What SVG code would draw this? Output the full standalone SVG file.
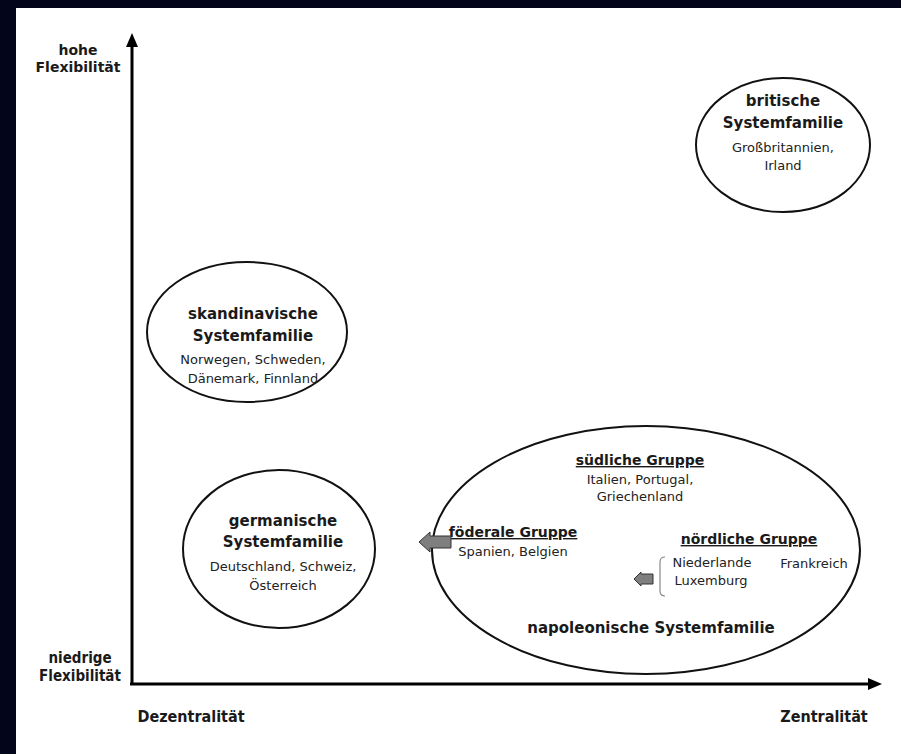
<svg xmlns="http://www.w3.org/2000/svg" width="901" height="754" viewBox="0 0 901 754">
<style>
.ell{fill:none;stroke:#111;stroke-width:2}
.ax{stroke:#000;stroke-width:3;fill:none}
.tb{font-family:"DejaVu Sans",Verdana,sans-serif;font-weight:bold;font-size:15px;fill:#1a1a1a;text-anchor:middle}
.tr{font-family:"DejaVu Sans",Verdana,sans-serif;font-size:13px;fill:#222;text-anchor:middle}
.tu{font-family:"DejaVu Sans",Verdana,sans-serif;font-weight:bold;font-size:14px;fill:#1a1a1a;text-anchor:middle;text-decoration:underline}
.ta{font-family:"DejaVu Sans",Verdana,sans-serif;font-weight:bold;font-size:14px;fill:#1a1a1a;text-anchor:middle}
.tc{font-family:"DejaVu Sans Condensed","DejaVu Sans",sans-serif;font-stretch:condensed;font-weight:bold;font-size:15px;fill:#1a1a1a;text-anchor:middle}
.blk{fill:#7f7f7f;stroke:#333;stroke-width:1}
</style>
<rect x="0" y="0" width="901" height="754" fill="#03051a"/>
<rect x="16" y="8" width="885" height="746" fill="#fff"/>
<g id="axes">
<line class="ax" x1="132" y1="685" x2="132" y2="44"/>
<polygon points="132,33 126,47 138,47" fill="#000"/>
<line class="ax" x1="130" y1="684" x2="870" y2="684"/>
<polygon points="882,684 868,678 868,690" fill="#000"/>
<text class="ta" x="78" y="55">hohe</text>
<text class="ta" x="78" y="72">Flexibilität</text>
<text class="tc" x="80" y="663">niedrige</text>
<text class="tc" x="80" y="681">Flexibilität</text>
<text class="tc" x="191" y="722" style="font-size:16px">Dezentralität</text>
<text class="tc" x="824" y="722" style="font-size:16px">Zentralität</text>
</g>
<g id="britische">
<ellipse class="ell" cx="783" cy="145" rx="87" ry="67"/>
<text class="tb" x="783" y="106">britische</text>
<text class="tb" x="783" y="128">Systemfamilie</text>
<text class="tr" x="783" y="152">Großbritannien,</text>
<text class="tr" x="783" y="170">Irland</text>
</g>
<g id="skandinavische">
<ellipse class="ell" cx="247" cy="332" rx="100" ry="70"/>
<text class="tb" x="253" y="319">skandinavische</text>
<text class="tb" x="253" y="341">Systemfamilie</text>
<text class="tr" x="253" y="364">Norwegen, Schweden,</text>
<text class="tr" x="253" y="383">Dänemark, Finnland</text>
</g>
<g id="germanische">
<ellipse class="ell" cx="279" cy="549" rx="96" ry="79"/>
<text class="tb" x="283" y="526">germanische</text>
<text class="tb" x="283" y="547">Systemfamilie</text>
<text class="tr" x="283" y="571">Deutschland, Schweiz,</text>
<text class="tr" x="283" y="590">Österreich</text>
</g>
<g id="napoleonische">
<ellipse class="ell" cx="646" cy="550" rx="214" ry="124"/>
<text class="tu" x="640" y="465">südliche Gruppe</text>
<text class="tr" x="640" y="484">Italien, Portugal,</text>
<text class="tr" x="640" y="501">Griechenland</text>
<text class="tu" x="513" y="537">föderale Gruppe</text>
<text class="tr" x="513" y="556">Spanien, Belgien</text>
<text class="tu" x="749" y="544">nördliche Gruppe</text>
<text class="tr" x="712" y="567">Niederlande</text>
<text class="tr" x="814" y="568">Frankreich</text>
<text class="tr" x="711" y="585">Luxemburg</text>
<text class="tb" x="651" y="633">napoleonische Systemfamilie</text>
</g>
<g id="connectors">
<polygon class="blk" points="419,542 430,532 430,536 451,536 451,548 430,548 430,552"/>
<polygon class="blk" points="634,579 641,572 641,574 653,574 653,584 641,584 641,586"/>
<path d="M665,557 Q660,557 660,562 L660,591 Q660,596 665,596" fill="none" stroke="#888" stroke-width="1.2"/>
</g>
</svg>
